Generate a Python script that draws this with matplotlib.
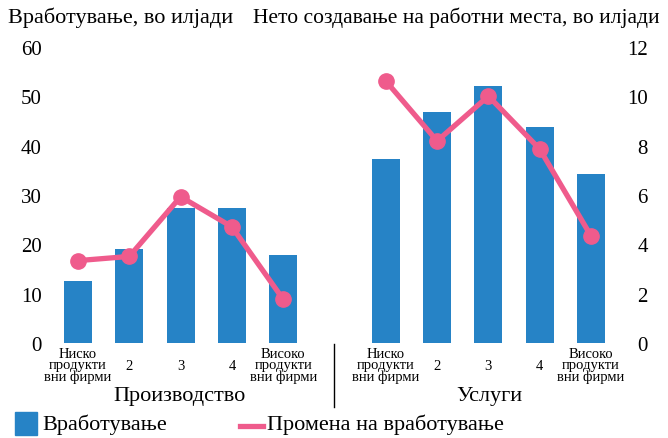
import numpy as np
import matplotlib
matplotlib.use('Agg')
import matplotlib.pyplot as plt
from matplotlib.patches import Rectangle
from matplotlib.lines import Line2D
from matplotlib.transforms import blended_transform_factory

plt.rcParams['font.family'] = ['Liberation Serif', 'DejaVu Serif']

# data
groups = ['Производство', 'Услуги']
categories = ['Ниско\nпродукти\nвни фирми', '2', '3', '4', 'Високо\nпродукти\nвни фирми']
employment_manuf = [12.6, 19.1, 27.4, 27.4, 17.8]
employment_serv = [37.3, 46.9, 52.1, 43.8, 34.3]
netjobs_manuf = [3.34, 3.51, 5.93, 4.71, 1.77]
netjobs_serv = [10.62, 8.19, 10.01, 7.86, 4.34]
left_ticks = [0, 10, 20, 30, 40, 50, 60]
right_ticks = [0, 2, 4, 6, 8, 10, 12]

blue = '#2683C6'
pink = '#EF5B8C'

W, H = 668, 439
fig = plt.figure(figsize=(W / 100, H / 100), dpi=100)

def fx(px):
  return px / W

def fy(py):
  return 1 - py / H

ax = fig.add_axes([fx(50), fy(344), fx(620) - fx(50), fy(48) - fy(344)])
ax2 = ax.twinx()

x_manuf = np.arange(5)
x_serv = np.arange(5) + 6
bw = 0.546

ax.bar(x_manuf, employment_manuf, width=bw, color=blue, zorder=2)
ax.bar(x_serv, employment_serv, width=bw, color=blue, zorder=2)
ax2.plot(x_manuf, netjobs_manuf, color=pink, lw=3.8, marker='o', ms=11, zorder=3)
ax2.plot(x_serv, netjobs_serv, color=pink, lw=3.8, marker='o', ms=11, zorder=3)

ax.set_xlim(-0.546, 10.565)
ax.set_ylim(0, 60)
ax2.set_ylim(0, 12)
ax.set_yticks(left_ticks)
ax2.set_yticks(right_ticks)
ax.tick_params(axis='y', length=0, pad=6, labelsize=15)
ax2.tick_params(axis='y', length=0, pad=20, labelsize=15)
for lbl in ax2.get_yticklabels():
  lbl.set_horizontalalignment('right')
ax.set_xticks([])
for a in (ax, ax2):
  for s in a.spines.values():
    s.set_visible(False)

# category labels, centred vertically under each bar
trans = blended_transform_factory(ax.transData, fig.transFigure)
for xs in (x_manuf, x_serv):
  for x, cat in zip(xs, categories):
    ax.text(x, fy(366), cat, transform=trans, ha='center', va='center',
            fontsize=10.5, linespacing=0.85)

# group labels and separator
fig.text(fx(180), fy(397), groups[0], ha='center', va='center', fontsize=16)
fig.text(fx(489), fy(397), groups[1], ha='center', va='center', fontsize=16)
fig.add_artist(Line2D([fx(334), fx(334)], [fy(345), fy(408)], color='black', lw=1))

# axis titles
fig.text(fx(8), fy(18), 'Вработување, во илјади', ha='left', va='center', fontsize=16)
fig.text(fx(660), fy(18), 'Нето создавање на работни места, во илјади',
         ha='right', va='center', fontsize=15.5)

# legend
fig.add_artist(Rectangle((fx(15), fy(436)), fx(22), fy(413) - fy(436), color=blue))
fig.text(fx(42), fy(425), 'Вработување', ha='left', va='center', fontsize=16)
fig.add_artist(Line2D([fx(240), fx(263)], [fy(427), fy(427)], color=pink, lw=3.8))
fig.text(fx(267), fy(425), 'Промена на вработување', ha='left', va='center', fontsize=16)

fig.savefig('out.png', dpi=100)
